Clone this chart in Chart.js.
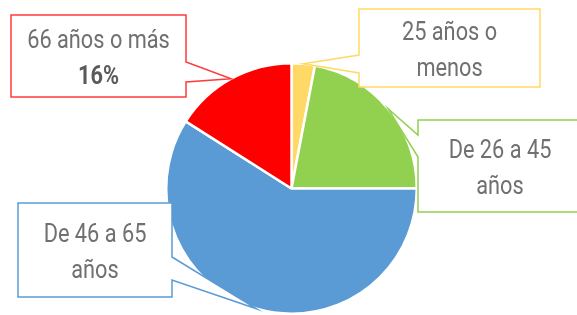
<!DOCTYPE html>
<html lang="es">
  <head>
    <meta charset="UTF-8" />
    <title>Edad</title>
    <style>
      body { margin: 0; background: #fff; }
    </style>
  </head>
  <body>
    <canvas id="myChart" width="577" height="315"></canvas>
    <script src="https://cdn.jsdelivr.net/npm/chart.js@4.4.0/dist/chart.umd.min.js"></script>
    <script>
      // values (share of people by age band, %)
      const categories = ["25 años o menos", "De 26 a 45 años", "De 46 a 65 años", "66 años o más"];
      const shares = [3, 22, 59, 16];
      const labelLines = [["25 años o", "menos"], ["De 26 a 45", "años"], ["De 46 a 65", "años"], ["66 años o más"]];
      const showValue = [false, false, false, true];

      const fills = ["#FFD966", "#92D050", "#5B9BD5", "#FF0000"];
      const edges = ["#FFD966", "#92D050", "#5B9BD5", "#FF3B3B"];

      // callout boxes: x1, y1, x2, y2, side of the pointer, pointer y range
      const boxes = [
        { x1: 359, y1: 9, x2: 540, y2: 87, side: "left", w1: 55, w2: 73 },
        { x1: 418, y1: 120, x2: 582, y2: 212, side: "left", w1: 135, w2: 157 },
        { x1: 18, y1: 203, x2: 172, y2: 297, side: "right", w1: 257, w2: 280 },
        { x1: 11, y1: 15, x2: 186, y2: 97, side: "right", w1: 62, w2: 82 },
      ];

      const callouts = {
        id: "callouts",
        afterDatasetsDraw(chart) {
          const ctx = chart.ctx;
          const arcs = chart.getDatasetMeta(0).data;
          arcs.forEach((arc, i) => {
            const b = boxes[i];
            const mid = (arc.startAngle + arc.endAngle) / 2;
            const tx = arc.x + arc.outerRadius * Math.cos(mid);
            const ty = arc.y + arc.outerRadius * Math.sin(mid);
            ctx.save();
            ctx.beginPath();
            if (b.side === "right") {
              ctx.moveTo(b.x1, b.y1);
              ctx.lineTo(b.x2, b.y1);
              ctx.lineTo(b.x2, b.w1);
              ctx.lineTo(tx, ty);
              ctx.lineTo(b.x2, b.w2);
              ctx.lineTo(b.x2, b.y2);
              ctx.lineTo(b.x1, b.y2);
            } else {
              ctx.moveTo(b.x2, b.y1);
              ctx.lineTo(b.x1, b.y1);
              ctx.lineTo(b.x1, b.w1);
              ctx.lineTo(tx, ty);
              ctx.lineTo(b.x1, b.w2);
              ctx.lineTo(b.x1, b.y2);
              ctx.lineTo(b.x2, b.y2);
            }
            ctx.closePath();
            ctx.fillStyle = "#fff";
            ctx.fill();
            ctx.lineWidth = 1.5;
            ctx.strokeStyle = edges[i];
            ctx.stroke();

            const lines = labelLines[i].slice();
            if (showValue[i]) lines.push(shares[i] + "%");
            const cx = (b.x1 + b.x2) / 2;
            const cy = (b.y1 + b.y2) / 2;
            ctx.textAlign = "center";
            ctx.textBaseline = "alphabetic";
            lines.forEach((t, k) => {
              const bold = showValue[i] && k === lines.length - 1;
              ctx.save();
              ctx.translate(cx, cy - 8 + k * 36);
              ctx.scale(0.87, 1);
              ctx.font = (bold ? "bold " : "") + "25px Roboto";
              ctx.fillStyle = bold ? "#5a5a5a" : "#707070";
              ctx.fillText(t, 0, 0);
              ctx.restore();
            });
            ctx.restore();
          });
        },
      };

      new Chart(document.getElementById("myChart"), {
        type: "pie",
        data: {
          labels: categories,
          datasets: [
            {
              data: shares,
              backgroundColor: fills,
              borderColor: "#fff",
              borderWidth: 2.5,
            },
          ],
        },
        options: {
          responsive: false,
          animation: false,
          layout: { padding: { left: 164, right: 158, top: 62, bottom: -2 } },
          plugins: {
            legend: { display: false },
            tooltip: { enabled: false },
          },
        },
        plugins: [callouts],
      });
    </script>
  </body>
</html>
